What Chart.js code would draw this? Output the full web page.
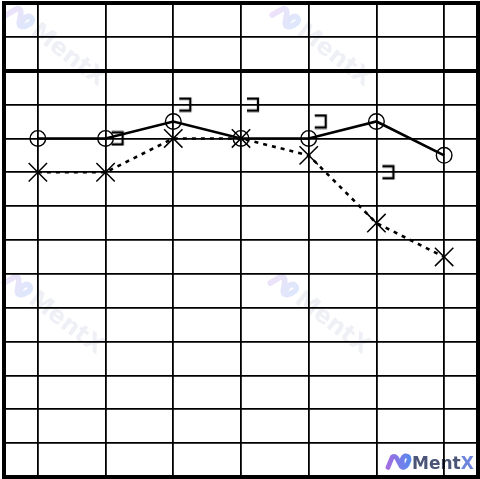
<!DOCTYPE html>
<html>
<head>
<meta charset="utf-8">
<script src="https://cdn.jsdelivr.net/npm/chart.js@4"></script>
<style>
  body { margin: 0; background: #fff; }
</style>
</head>
<body>
<canvas id="canvas" width="480" height="479"></canvas>
<script>
// audiogram data (dB HL)
const freqs = ['125', '250', '500', '1000', '2000', '4000', '8000'];
const rightAir = [20, 20, 15, 20, 20, 15, 25];
const leftAir = [30, 30, 20, 20, 25, 45, 55];
const leftBone = [null, 20, 10, 10, 15, 30, null];
const dbTicks = [-20, -10, 0, 10, 20, 30, 40, 50, 60, 70, 80, 90, 100, 110, 120];

// bracket symbol drawn right of the point
function makeBracket() {
    const c = document.createElement('canvas');
    c.width = 40;
    c.height = 16;
    const g = c.getContext('2d');
    g.strokeStyle = '#000';
    g.lineWidth = 2.3;
    g.beginPath();
    g.moveTo(26, 2);
    g.lineTo(37, 2);
    g.lineTo(37, 14);
    g.lineTo(26, 14);
    g.stroke();
    return c;
}

function drawIcon(ctx, x, y, s, alpha) {
    const grad = ctx.createLinearGradient(x, y, x + 2 * s, y);
    grad.addColorStop(0, 'rgba(160,110,225,' + alpha + ')');
    grad.addColorStop(1, 'rgba(80,140,240,' + alpha + ')');
    ctx.strokeStyle = grad;
    ctx.lineWidth = s * 0.4;
    ctx.lineCap = 'round';
    ctx.beginPath();
    ctx.moveTo(x, y + s * 0.45);
    ctx.lineTo(x + s * 0.35, y - s * 0.4);
    ctx.quadraticCurveTo(x + s * 0.6, y - s * 0.6, x + s * 0.8, y - s * 0.2);
    ctx.lineTo(x + s * 1.1, y + s * 0.35);
    ctx.quadraticCurveTo(x + s * 1.35, y + s * 0.6, x + s * 1.6, y + s * 0.2);
    ctx.lineTo(x + s * 1.75, y - s * 0.15);
    ctx.quadraticCurveTo(x + s * 1.8, y - s * 0.55, x + s * 1.4, y - s * 0.5);
    ctx.quadraticCurveTo(x + s * 1.1, y - s * 0.3, x + s * 1.2, y + s * 0.1);
    ctx.stroke();
}

const markPlugin = {
    id: 'marks',
    beforeDraw(chart) {
        const ctx = chart.ctx;
        // faint diagonal watermarks
        const spots = [[10, 10], [276, 10], [8, 278], [274, 278]];
        spots.forEach(p => {
            ctx.save();
            ctx.translate(p[0], p[1]);
            ctx.rotate(37.5 * Math.PI / 180);
            drawIcon(ctx, 0, 0, 14, 0.2);
            ctx.font = 'bold 24px "DejaVu Sans"';
            ctx.textBaseline = 'middle';
            ctx.fillStyle = 'rgba(130,140,185,0.13)';
            ctx.fillText('MentX', 30, 1);
            ctx.restore();
        });
        // logo bottom right
        ctx.save();
        drawIcon(ctx, 388, 462, 12, 1);
        ctx.font = 'bold 17px "DejaVu Sans"';
        ctx.textBaseline = 'alphabetic';
        ctx.fillStyle = '#4b5577';
        ctx.fillText('Ment', 412, 468.5);
        const w = ctx.measureText('Ment').width;
        ctx.fillStyle = '#6c84dc';
        ctx.fillText('X', 412 + w, 468.5);
        ctx.restore();
    },
    afterDraw(chart) {
        const a = chart.chartArea;
        const ctx = chart.ctx;
        ctx.save();
        ctx.strokeStyle = '#000';
        ctx.lineWidth = 4;
        ctx.strokeRect(a.left, a.top, a.right - a.left, a.bottom - a.top);
        ctx.restore();
    }
};

const ctx = document.getElementById('canvas').getContext('2d');
new Chart(ctx, {
    type: 'line',
    data: {
        labels: freqs,
        datasets: [{
            label: 'Right AC',
            data: rightAir,
            borderColor: '#000',
            borderWidth: 2.6,
            pointStyle: 'circle',
            pointRadius: 7.8,
            pointBorderWidth: 1.4,
            pointBackgroundColor: 'rgba(0,0,0,0)',
            pointBorderColor: '#000',
            tension: 0
        }, {
            label: 'Left AC',
            data: leftAir,
            borderColor: '#000',
            borderWidth: 2.6,
            borderDash: [4, 5],
            pointStyle: 'crossRot',
            pointRadius: 13,
            pointBorderWidth: 1.5,
            pointBorderColor: '#000',
            tension: 0
        }, {
            label: 'Left BC',
            data: leftBone,
            showLine: false,
            pointStyle: makeBracket(),
            pointRadius: 8
        }]
    },
    options: {
        responsive: false,
        animation: false,
        layout: { autoPadding: false, padding: { left: 4, top: 3, right: 2, bottom: 2 } },
        plugins: {
            legend: { display: false },
            tooltip: { enabled: false }
        },
        scales: {
            x: {
                type: 'category',
                offset: true,
                grid: { offset: false, color: '#000', lineWidth: 1.8, drawTicks: false },
                border: { display: false },
                ticks: { display: false }
            },
            y: {
                min: -20,
                max: 120,
                reverse: true,
                afterBuildTicks: scale => {
                    scale.ticks = dbTicks.map(v => ({ value: v }));
                },
                grid: {
                    color: '#000',
                    lineWidth: c => c.tick.value === 0 ? 4 : 1.8,
                    drawTicks: false
                },
                border: { display: false },
                ticks: { display: false }
            }
        }
    },
    plugins: [markPlugin]
});
</script>
</body>
</html>
